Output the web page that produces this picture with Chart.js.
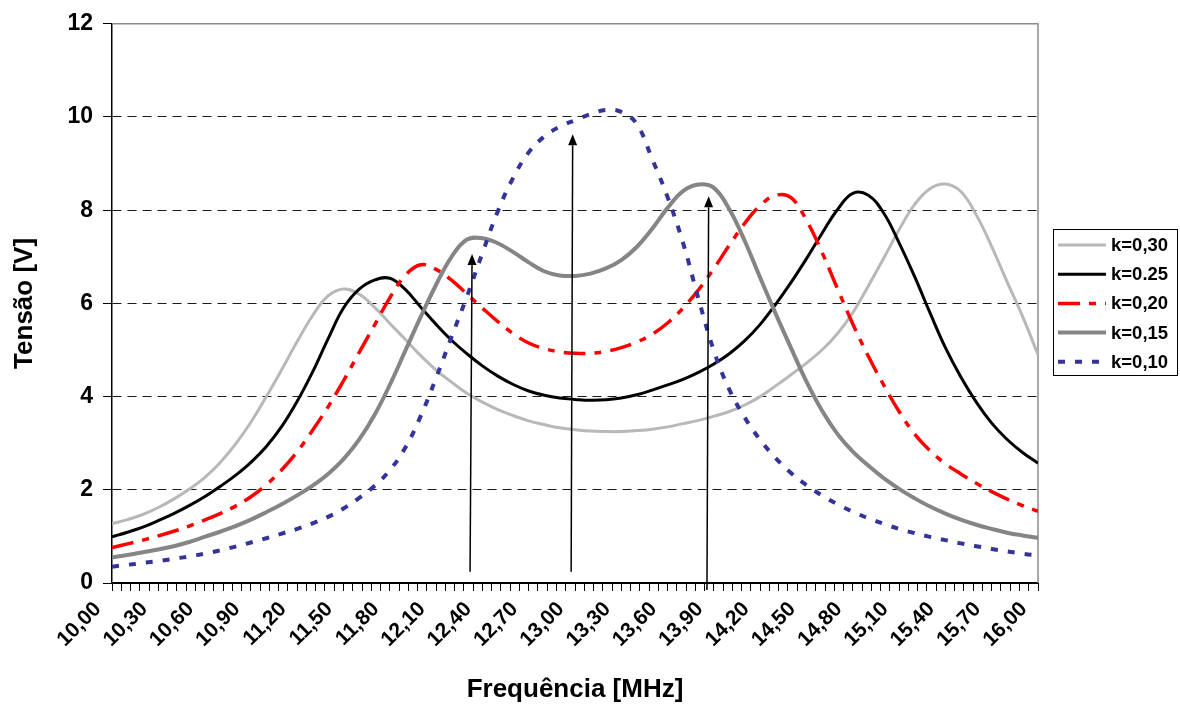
<!DOCTYPE html>
<html>
<head>
<meta charset="utf-8">
<script src="https://cdn.jsdelivr.net/npm/chart.js@4.4.1/dist/chart.umd.min.js"></script>
<style>
  html, body { margin: 0; padding: 0; background: #fff; }
</style>
</head>
<body>
<canvas id="graficoTensao" width="1180" height="709"></canvas>
<script>
// Frequências (MHz)
const frequencias = [10.0,10.1,10.2,10.3,10.4,10.5,10.6,10.7,10.8,10.9,11.0,11.1,11.2,11.3,11.4,11.5,11.6,11.7,11.8,11.9,
  12.0,12.1,12.2,12.3,12.4,12.5,12.6,12.7,12.8,12.9,13.0,13.1,13.2,13.3,13.4,13.5,13.6,13.7,13.8,13.9,
  14.0,14.1,14.2,14.3,14.4,14.5,14.6,14.7,14.8,14.9,15.0,15.1,15.2,15.3,15.4,15.5,15.6,15.7,15.8,15.9,16.0];

// Tensão [V] para cada coeficiente de acoplamento k
const tensaoK030 = [1.27,1.36,1.47,1.62,1.80,2.01,2.26,2.58,2.98,3.45,4.00,4.58,5.18,5.74,6.16,6.31,6.20,5.92,5.57,5.23,
  4.88,4.57,4.31,4.07,3.88,3.72,3.59,3.48,3.40,3.33,3.29,3.26,3.25,3.25,3.27,3.30,3.35,3.42,3.49,3.58,
  3.68,3.82,4.00,4.23,4.47,4.72,5.00,5.35,5.80,6.37,6.97,7.58,8.12,8.46,8.56,8.40,7.90,7.22,6.46,5.72,4.90];
const tensaoK025 = [0.99,1.09,1.20,1.34,1.49,1.66,1.85,2.07,2.31,2.59,2.93,3.36,3.90,4.53,5.24,5.90,6.30,6.50,6.54,6.30,
  5.92,5.55,5.21,4.92,4.66,4.44,4.26,4.12,4.03,3.97,3.94,3.92,3.93,3.97,4.04,4.14,4.25,4.37,4.52,4.70,
  4.92,5.20,5.55,5.98,6.45,6.96,7.50,8.01,8.36,8.32,7.94,7.30,6.58,5.80,5.05,4.42,3.88,3.43,3.08,2.80,2.57];
const tensaoK020 = [0.76,0.84,0.92,1.01,1.11,1.22,1.35,1.49,1.65,1.85,2.11,2.43,2.82,3.28,3.78,4.34,4.94,5.53,6.12,6.60,
  6.83,6.73,6.50,6.20,5.90,5.61,5.35,5.15,5.03,4.96,4.93,4.93,4.97,5.05,5.17,5.34,5.58,5.90,6.29,6.75,
  7.25,7.72,8.10,8.32,8.27,7.78,7.10,6.32,5.56,4.87,4.25,3.68,3.20,2.84,2.56,2.34,2.14,1.96,1.80,1.66,1.54];
const tensaoK015 = [0.55,0.60,0.66,0.72,0.79,0.88,0.99,1.10,1.22,1.36,1.52,1.69,1.88,2.09,2.34,2.66,3.07,3.60,4.25,4.98,
  5.71,6.40,7.00,7.37,7.40,7.29,7.10,6.88,6.69,6.60,6.59,6.64,6.75,6.93,7.21,7.60,8.05,8.41,8.55,8.48,
  8.02,7.34,6.55,5.78,5.04,4.32,3.70,3.20,2.82,2.52,2.25,2.02,1.82,1.64,1.49,1.36,1.25,1.16,1.08,1.02,0.97];
const tensaoK010 = [0.35,0.39,0.43,0.47,0.52,0.57,0.63,0.70,0.78,0.87,0.96,1.06,1.16,1.28,1.42,1.60,1.82,2.08,2.42,2.90,
  3.58,4.40,5.28,6.15,7.08,7.98,8.70,9.24,9.58,9.79,9.93,10.06,10.15,10.11,9.85,9.10,8.28,7.30,6.10,4.98,
  4.15,3.55,3.07,2.68,2.36,2.10,1.88,1.69,1.53,1.39,1.27,1.16,1.07,0.99,0.92,0.85,0.79,0.73,0.68,0.63,0.59];

// Setas (frequência e tensão nas pontas)
const setaFreqBase = [12.32, 12.975, 13.855];
const setaFreqTopo = [12.333, 12.985, 13.866];
const setaTensaoBase = [0.24, 0.24, -0.15];
const setaTensaoTopo = [7.06, 9.63, 8.30];

const rotulosLegenda = ['k=0,30', 'k=0.25', 'k=0,20', 'k=0,15', 'k=0,10'];

const FONTE = '"Liberation Sans", Arial, sans-serif';

function pontos(valores) {
  return frequencias.map((f, i) => ({ x: f, y: valores[i] }));
}

// Borda superior/direita da área de plotagem (cinza, como no Excel)
const bordaArea = {
  id: 'bordaArea',
  beforeDatasetsDraw(chart) {
    const { ctx, chartArea: a } = chart;
    ctx.save();
    ctx.strokeStyle = '#8c8c8c';
    ctx.lineWidth = 1.5;
    ctx.beginPath();
    ctx.moveTo(a.left, a.top);
    ctx.lineTo(a.right, a.top);
    ctx.lineTo(a.right, a.bottom);
    ctx.stroke();
    ctx.restore();
  }
};

// Setas verticais desenhadas pelas escalas
const setas = {
  id: 'setas',
  afterDatasetsDraw(chart) {
    const { ctx, scales: { x, y } } = chart;
    ctx.save();
    ctx.strokeStyle = '#000';
    ctx.fillStyle = '#000';
    ctx.lineWidth = 1.5;
    setaFreqBase.forEach((fb, i) => {
      const x0 = x.getPixelForValue(fb);
      const y0 = y.getPixelForValue(setaTensaoBase[i]);
      const x1 = x.getPixelForValue(setaFreqTopo[i]);
      const y1 = y.getPixelForValue(setaTensaoTopo[i]);
      const ang = Math.atan2(y1 - y0, x1 - x0);
      const comp = 11, larg = 4.5;
      ctx.beginPath();
      ctx.moveTo(x0, y0);
      ctx.lineTo(x1 - Math.cos(ang) * comp, y1 - Math.sin(ang) * comp);
      ctx.stroke();
      ctx.beginPath();
      ctx.moveTo(x1, y1);
      ctx.lineTo(x1 - Math.cos(ang) * comp - Math.sin(ang) * larg, y1 - Math.sin(ang) * comp + Math.cos(ang) * larg);
      ctx.lineTo(x1 - Math.cos(ang) * comp + Math.sin(ang) * larg, y1 - Math.sin(ang) * comp - Math.cos(ang) * larg);
      ctx.closePath();
      ctx.fill();
    });
    ctx.restore();
  }
};

// Legenda com caixa à direita
const legenda = {
  id: 'legenda',
  afterDraw(chart) {
    const ctx = chart.ctx;
    const caixaX = chart.chartArea.right + 15;
    const caixaY = 229;
    ctx.save();
    ctx.strokeStyle = '#000';
    ctx.lineWidth = 1;
    ctx.strokeRect(caixaX + 0.5, caixaY + 0.5, 124, 146);
    ctx.font = 'bold 18.5px ' + FONTE;
    ctx.textBaseline = 'middle';
    chart.data.datasets.forEach((ds, i) => {
      const yy = caixaY + 16 + i * 29.2;
      ctx.beginPath();
      ctx.setLineDash(ds.borderDash || []);
      ctx.strokeStyle = ds.borderColor;
      ctx.lineWidth = ds.borderWidth;
      ctx.moveTo(caixaX + 5, yy);
      ctx.lineTo(caixaX + 53, yy);
      ctx.stroke();
      ctx.setLineDash([]);
      ctx.fillStyle = '#000';
      ctx.fillText(ds.label, caixaX + 58, yy + 1);
    });
    ctx.restore();
  }
};

const conjuntos = [
  { label: rotulosLegenda[0], data: pontos(tensaoK030), borderColor: '#b8b8b8', borderWidth: 3, borderDash: [], order: 5 },
  { label: rotulosLegenda[1], data: pontos(tensaoK025), borderColor: '#000000', borderWidth: 3, borderDash: [], order: 4 },
  { label: rotulosLegenda[2], data: pontos(tensaoK020), borderColor: '#ff0000', borderWidth: 3.5, borderDash: [22, 9, 7, 9], order: 3 },
  { label: rotulosLegenda[3], data: pontos(tensaoK015), borderColor: '#858585', borderWidth: 4, borderDash: [], order: 2 },
  { label: rotulosLegenda[4], data: pontos(tensaoK010), borderColor: '#333399', borderWidth: 4, borderDash: [7, 10], order: 1 }
].map(d => Object.assign(d, { pointRadius: 0, fill: false, tension: 0.4 }));

new Chart(document.getElementById('graficoTensao'), {
  type: 'line',
  data: { datasets: conjuntos },
  options: {
    responsive: false,
    animation: false,
    devicePixelRatio: 1,
    layout: { padding: { left: 0, right: 142, top: 22, bottom: 0 } },
    plugins: {
      legend: { display: false },
      tooltip: { enabled: false }
    },
    scales: {
      x: {
        type: 'linear',
        min: 10,
        max: 16,
        afterFit: s => { s.height = 126; },
        ticks: {
          stepSize: 0.06,
          autoSkip: false,
          maxRotation: 45,
          minRotation: 45,
          padding: 6,
          labelOffset: -14,
          color: '#000',
          font: { family: FONTE, size: 21, weight: 'bold' },
          callback: (v, i) => (i % 5 === 0 ? v.toFixed(2).replace('.', ',') : '')
        },
        grid: { drawOnChartArea: false, drawTicks: true, tickLength: 8, tickColor: '#000', tickWidth: 1 },
        border: { color: '#000', width: 2 },
        title: {
          display: true,
          text: 'Frequência [MHz]',
          color: '#000',
          font: { family: FONTE, size: 26, weight: 'bold' },
          padding: { top: 0, bottom: 4 }
        }
      },
      y: {
        min: 0,
        max: 12,
        afterFit: s => { s.width = 112; },
        ticks: {
          stepSize: 2,
          padding: 10,
          color: '#000',
          font: { family: FONTE, size: 23, weight: 'bold' }
        },
        grid: {
          color: c => (c.tick && (c.tick.value === 0 || c.tick.value === 12) ? 'rgba(0,0,0,0)' : '#1a1a1a'),
          lineWidth: 1,
          tickLength: 9,
          tickColor: '#000',
          tickWidth: 1
        },
        border: { color: '#000', width: 1.5, dash: [9, 6] },
        title: {
          display: true,
          text: 'Tensão [V]',
          color: '#000',
          font: { family: FONTE, size: 26, weight: 'bold' },
          padding: { top: 9, bottom: 0 }
        }
      }
    }
  },
  plugins: [bordaArea, setas, legenda]
});
</script>
</body>
</html>
